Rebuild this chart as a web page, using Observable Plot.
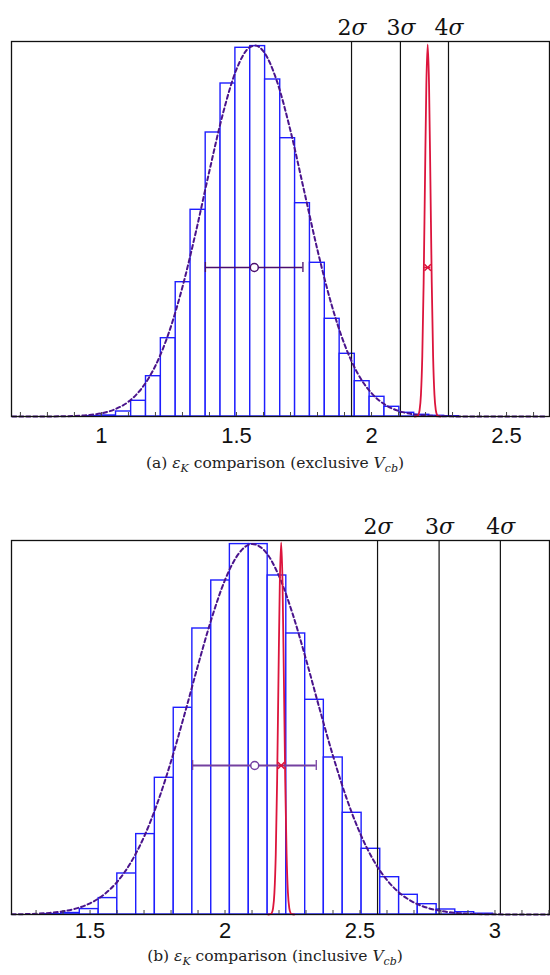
<!DOCTYPE html>
<html><head><meta charset="utf-8">
<script src="https://cdn.jsdelivr.net/npm/d3@7"></script>
<script src="https://cdn.jsdelivr.net/npm/@observablehq/plot@0.6"></script>
<style>
body{margin:0;background:#fff;}
#wrap{position:relative;width:550px;height:975px;overflow:hidden;}
.panel{position:absolute;left:0;}
.cap{position:absolute;left:0;width:550px;text-align:center;font-family:"DejaVu Serif",serif;font-size:15.5px;color:#222;line-height:18px;}
.cap sub{font-size:11px;}
</style></head><body><div id="wrap"></div>
<script>
// ---------- Panel (a): exclusive Vcb ----------
const binEdgesA = [0.944, 0.999, 1.054, 1.110, 1.165, 1.220, 1.275, 1.330, 1.386, 1.441, 1.496, 1.551, 1.606, 1.662, 1.717, 1.772, 1.827, 1.882, 1.938, 1.993, 2.048, 2.103, 2.158, 2.214, 2.269, 2.324];
const countsA = [0.3, 1, 5, 15.7, 40.3, 78.3, 134.3, 206.7, 284, 333, 368.7, 370.4, 337, 278.3, 213.3, 153.7, 97.7, 62.7, 35.3, 19.7, 9.7, 3.7, 1.7, 0.7, 0.3];
const fitXA = [0.67, 0.80, 0.90, 0.95, 1.00, 1.05, 1.10, 1.15, 1.20, 1.25, 1.30, 1.35, 1.40, 1.45, 1.50, 1.55, 1.57, 1.60, 1.65, 1.70, 1.75, 1.80, 1.85, 1.90, 1.95, 2.00, 2.05, 2.10, 2.15, 2.20, 2.30, 2.40, 2.50, 2.65];
const fitYA = [0, 0.06, 0.52, 1.34, 3.2, 7.2, 14.8, 28.5, 50.8, 84.1, 129.5, 185, 245.8, 303.1, 347.2, 369.4, 371, 365.1, 335.1, 285.7, 226.2, 166.4, 113.7, 72.1, 42.5, 23.3, 11.8, 5.6, 2.4, 1.0, 0.13, 0.02, 0, 0];
const sigmaLinesA = [1.926, 2.107, 2.285];
const errMeanA = 1.566, errRangeA = [1.385, 1.746], errHeightA = 149;
const xDomainA = [0.667, 2.659];
const majorTicksA = [1, 1.5, 2, 2.5];
const minorTicksA = [0.7, 0.8, 0.9, 1.0, 1.1, 1.2, 1.3, 1.4, 1.5, 1.6, 1.7, 1.8, 1.9, 2.0, 2.1, 2.2, 2.3, 2.4, 2.5, 2.6];

// ---------- Panel (b): inclusive Vcb ----------
const binEdgesB = [1.323, 1.393, 1.462, 1.532, 1.601, 1.671, 1.740, 1.810, 1.879, 1.949, 2.018, 2.088, 2.158, 2.227, 2.297, 2.366, 2.436, 2.506, 2.575, 2.645, 2.714, 2.784, 2.853, 2.923, 2.993];
const countsB = [0.3, 1.5, 5.4, 16.4, 41, 80.4, 136.7, 206.7, 286, 334, 370.4, 370.4, 339, 281, 214.7, 157, 101.7, 65.7, 37.3, 19.7, 10.3, 5, 2.3, 0.8];
const fitXB = [1.21, 1.25, 1.30, 1.35, 1.40, 1.45, 1.50, 1.55, 1.60, 1.65, 1.70, 1.75, 1.80, 1.85, 1.90, 1.95, 2.00, 2.05, 2.10, 2.15, 2.20, 2.25, 2.30, 2.35, 2.40, 2.45, 2.50, 2.55, 2.60, 2.65, 2.70, 2.75, 2.80, 2.85, 2.90, 3.00, 3.10, 3.20];
const fitYB = [0.15, 0.34, 0.75, 1.59, 3.2, 6.1, 11.2, 19.6, 32.5, 51.5, 77.7, 111.8, 153.2, 200.2, 249.3, 295.8, 334.6, 360.6, 370.5, 362.7, 338.4, 301.0, 255.1, 206.0, 158.6, 116.4, 81.4, 54.2, 34.4, 20.8, 12.0, 6.6, 3.5, 1.7, 0.8, 0.16, 0.03, 0];
const sigmaLinesB = [2.565, 2.793, 3.020];
const errMeanB = 2.110, errRangeB = [1.880, 2.338], errHeightB = 149;
const xDomainB = [1.209, 3.202];
const majorTicksB = [1.5, 2, 2.5, 3];
const minorTicksB = [1.3, 1.4, 1.5, 1.6, 1.7, 1.8, 1.9, 2.0, 2.1, 2.2, 2.3, 2.4, 2.5, 2.6, 2.7, 2.8, 2.9, 3.0, 3.1, 3.2];

// ---------- Experimental value (red, shared) ----------
const expX = [2.160, 2.168, 2.173, 2.178, 2.183, 2.188, 2.193, 2.198, 2.203, 2.208, 2.213, 2.218, 2.223, 2.228, 2.233, 2.238, 2.243, 2.248, 2.256];
const expY = [0, 0.3, 1.4, 6.3, 21.9, 60.6, 134.1, 236.4, 332.1, 372, 332.1, 236.4, 134.1, 60.6, 21.9, 6.3, 1.4, 0.3, 0];
const expMean = 2.208, expRange = [2.197, 2.219];
const sigmaNames = ["2", "3", "4"];

function panel(o) {
  const bins = o.counts.map((c, i) => ({x1: o.edges[i], x2: o.edges[i + 1], y: c}));
  const fit = o.fitX.map((x, i) => ({x, y: o.fitY[i]}));
  const exp = expX.map((x, i) => ({x, y: expY[i]}));
  const err = [{mean: o.errMean, lo: o.errRange[0], hi: o.errRange[1], y: o.errY}];
  const eexp = [{mean: expMean, lo: expRange[0], hi: expRange[1], y: o.errY}];
  const sig = o.sigma.map((x, i) => ({x, n: sigmaNames[i]}));
  return Plot.plot({
    width: 550, height: o.height,
    marginTop: o.mt, marginBottom: o.mb, marginLeft: 11, marginRight: 1,
    x: {domain: o.xdom, axis: null},
    y: {domain: [0, o.ymax], axis: null},
    style: {background: "transparent", overflow: "visible", fontFamily: "Liberation Sans", fontSize: "22px", color: "#111"},
    marks: [
      Plot.rectY(bins, {x1: "x1", x2: "x2", y: "y", fill: "white", stroke: "#1e1eff", strokeWidth: 1.4}),
      Plot.ruleX(sig, {x: "x", stroke: "#111", strokeWidth: 1.2}),
      Plot.line(fit, {x: "x", y: "y", stroke: "#4a148c", strokeWidth: 2, strokeDasharray: "4,3", curve: "monotone-x"}),
      Plot.line(exp, {x: "x", y: "y", stroke: "#dc143c", strokeWidth: 1.8, curve: "monotone-x"}),
      Plot.ruleY(err, {y: "y", x1: "lo", x2: "hi", stroke: o.errColor, strokeWidth: o.errWidth}),
      Plot.ruleX(err, {x: "lo", y1: d => d.y - 5, y2: d => d.y + 5, stroke: o.errColor, strokeWidth: 1.3}),
      Plot.ruleX(err, {x: "hi", y1: d => d.y - 5, y2: d => d.y + 5, stroke: o.errColor, strokeWidth: 1.3}),
      Plot.dot(err, {x: "mean", y: "y", r: 4, stroke: o.errColor, fill: "white", strokeWidth: 1.5}),
      Plot.ruleY(eexp, {y: "y", x1: "lo", x2: "hi", stroke: "#dc143c", strokeWidth: 1.5}),
      Plot.dot(eexp, {x: "mean", y: "y", r: 3, symbol: "times", stroke: "#dc143c", strokeWidth: 1.5}),
      Plot.frame({stroke: "#111", strokeWidth: 1.3}),
      Plot.ruleX(o.minor, {x: d => d, y1: 0, y2: 4, stroke: "#444", strokeWidth: 1}),
      Plot.axisX(o.major, {tickSize: 0, tickPadding: o.tp, fontSize: 22, fontFamily: "Liberation Sans", tickFormat: d => String(d)}),
      Plot.text(sig, {x: "x", y: o.ymax, text: "n", textAnchor: "end", lineAnchor: "bottom", dy: -7, dx: 0, fontFamily: "DejaVu Serif", fontSize: 22, fill: "#111"}),
      Plot.text(sig, {x: "x", y: o.ymax, text: () => "σ", textAnchor: "start", lineAnchor: "bottom", dy: -7, dx: 0, fontFamily: "DejaVu Serif", fontStyle: "italic", fontSize: 22, fill: "#111"})
    ]
  });
}

const wrap = document.getElementById("wrap");
const a = panel({edges: binEdgesA, counts: countsA, fitX: fitXA, fitY: fitYA, sigma: sigmaLinesA,
  errMean: errMeanA, errRange: errRangeA, errY: errHeightA, xdom: xDomainA, major: majorTicksA, minor: minorTicksA,
  height: 452, mt: 41, mb: 36, tp: 11, ymax: 375, errColor: "#4a0e6e", errWidth: 1.5});
a.classList.add("panel"); a.style.top = "0px";
wrap.appendChild(a);
const capA = document.createElement("div");
capA.className = "cap"; capA.style.top = "454px";
capA.innerHTML = '(a) <i>ε</i><sub><i>K</i></sub> comparison (exclusive <i>V</i><sub><i>cb</i></sub>)';
wrap.appendChild(capA);

const b = panel({edges: binEdgesB, counts: countsB, fitX: fitXB, fitY: fitYB, sigma: sigmaLinesB,
  errMean: errMeanB, errRange: errRangeB, errY: errHeightB, xdom: xDomainB, major: majorTicksB, minor: minorTicksB,
  height: 466, mt: 60, mb: 32, tp: 8, ymax: 374, errColor: "#7440a0", errWidth: 2});
b.classList.add("panel"); b.style.top = "480px";
wrap.appendChild(b);
const capB = document.createElement("div");
capB.className = "cap"; capB.style.top = "947px";
capB.innerHTML = '(b) <i>ε</i><sub><i>K</i></sub> comparison (inclusive <i>V</i><sub><i>cb</i></sub>)';
wrap.appendChild(capB);
</script>
</body></html>
